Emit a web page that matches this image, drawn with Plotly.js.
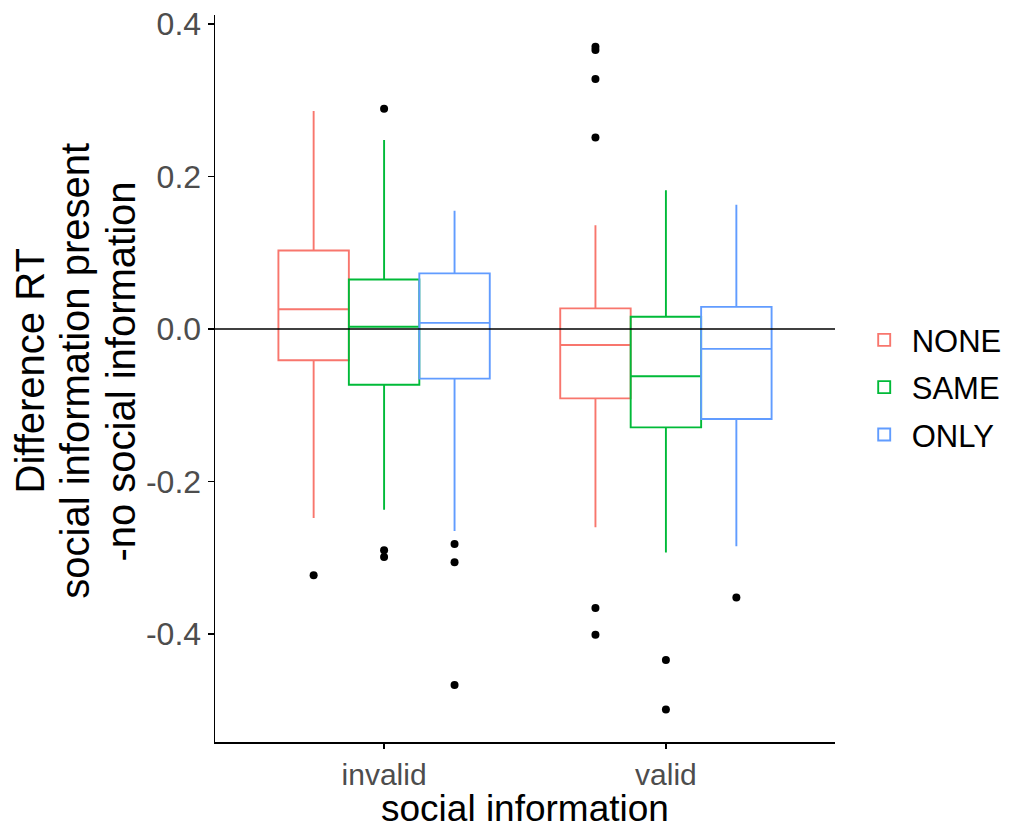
<!DOCTYPE html>
<html>
<head>
<meta charset="utf-8">
<script src="https://cdn.plot.ly/plotly-3.0.1.min.js"></script>
<style>html,body{margin:0;padding:0;background:#fff;}#chart{width:1020px;height:832px;}</style>
</head>
<body>
<div id="chart"></div>
<script>
var categories = ['invalid', 'valid'];
var groups = ['NONE', 'SAME', 'ONLY'];
var colors = ['#F8766D', '#00BA38', '#619CFF'];
var yTickVals = [-0.4, -0.2, 0, 0.2, 0.4];
var yTickText = ['-0.4', '-0.2', '0.0', '0.2', '0.4'];
var xTitle = 'social information';
var yTitleLines = ['Difference RT', 'social information present', '-no social information'];

// per group: [invalid, valid]
var lowerWhisker = {NONE: [-0.248, -0.260], SAME: [-0.237, -0.293], ONLY: [-0.265, -0.285]};
var q1Values     = {NONE: [-0.041, -0.091], SAME: [-0.073, -0.129], ONLY: [-0.065, -0.118]};
var medians      = {NONE: [0.026, -0.021],  SAME: [0.003, -0.062],  ONLY: [0.008, -0.026]};
var q3Values     = {NONE: [0.103, 0.027],   SAME: [0.065, 0.016],   ONLY: [0.073, 0.029]};
var upperWhisker = {NONE: [0.286, 0.136],   SAME: [0.248, 0.182],   ONLY: [0.155, 0.163]};

var outliers = {
  NONE: [[-0.323], [0.370, 0.366, 0.328, 0.251, -0.366, -0.401]],
  SAME: [[0.289, -0.290, -0.299], [-0.434, -0.499]],
  ONLY: [[-0.282, -0.306, -0.467], [-0.352]]
};

var FONT = 'Liberation Sans, Arial, sans-serif';

var traces = groups.map(function (g, i) {
  return {
    type: 'box',
    name: g,
    legendgroup: g,
    x: categories,
    y: outliers[g],
    q1: q1Values[g],
    median: medians[g],
    q3: q3Values[g],
    lowerfence: lowerWhisker[g],
    upperfence: upperWhisker[g],
    boxpoints: 'outliers',
    jitter: 0,
    pointpos: 0,
    whiskerwidth: 0,
    fillcolor: 'rgba(255,255,255,0)',
    line: {color: colors[i], width: 1.9},
    marker: {color: '#000000', size: 8, outliercolor: '#000000', line: {width: 0}},
    hoverinfo: 'y'
  };
});

var yTitleX = [-0.298, -0.225, -0.151];
var annotations = yTitleLines.map(function (t, i) {
  return {
    text: t, xref: 'paper', yref: 'paper', x: yTitleX[i], y: 0.51,
    xanchor: 'center', yanchor: 'middle', textangle: -90, showarrow: false,
    font: {family: FONT, size: 40, color: '#000000'}
  };
});
annotations.push({
  text: xTitle, xref: 'paper', yref: 'paper', x: 0.5, y: -0.122,
  xanchor: 'center', yanchor: 'bottom', showarrow: false,
  font: {family: FONT, size: 37, color: '#000000'}
});

var layout = {
  width: 1020,
  height: 832,
  paper_bgcolor: '#ffffff',
  plot_bgcolor: '#ffffff',
  margin: {l: 215, r: 185, t: 15, b: 90, autoexpand: false},
  boxmode: 'group',
  boxgap: 0.25,
  boxgroupgap: 0,
  showlegend: true,
  font: {family: FONT, color: '#000000'},
  xaxis: {
    type: 'category',
    range: [-0.6, 1.6],
    showline: true, linecolor: '#000000', linewidth: 1.5,
    ticks: 'outside', ticklen: 5, tickcolor: '#000000', tickwidth: 1.2,
    showgrid: false, zeroline: false,
    tickfont: {family: FONT, size: 30, color: '#4d4d4d'}
  },
  yaxis: {
    range: [-0.5416, 0.4118],
    tickvals: yTickVals,
    ticktext: yTickText,
    showline: true, linecolor: '#000000', linewidth: 1.5,
    ticks: 'outside', ticklen: 6, tickcolor: '#000000', tickwidth: 1.2,
    showgrid: false, zeroline: false,
    tickfont: {family: FONT, size: 32, color: '#4d4d4d'}
  },
  legend: {
    x: 1.035, xanchor: 'left', y: 0.488, yanchor: 'middle',
    font: {family: FONT, size: 31, color: '#000000'},
    bgcolor: 'rgba(0,0,0,0)',
    itemwidth: 45,
    traceorder: 'grouped',
    tracegroupgap: 4
  },
  annotations: annotations,
  shapes: [{
    type: 'line', xref: 'paper', x0: 0, x1: 1, yref: 'y', y0: 0, y1: 0,
    line: {color: '#000000', width: 1.5}, layer: 'above'
  }]
};

Plotly.newPlot('chart', traces, layout, {displayModeBar: false, staticPlot: true});
</script>
</body>
</html>
